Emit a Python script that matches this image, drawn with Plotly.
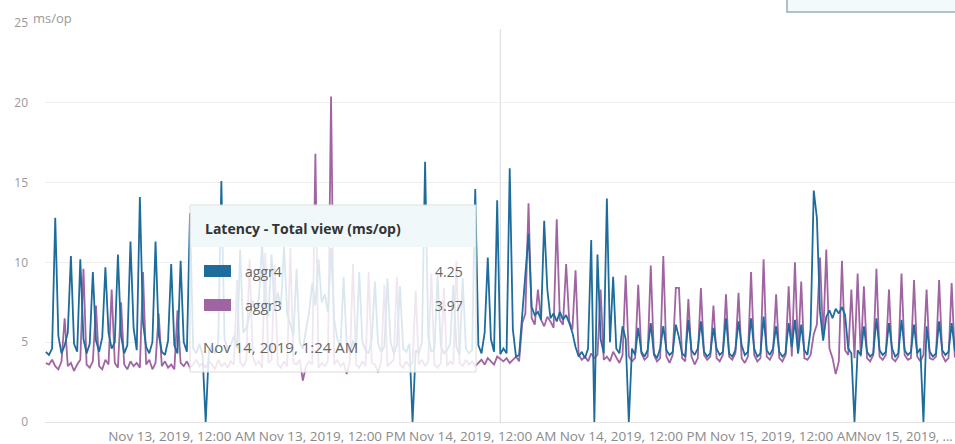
import pandas as pd
import plotly.graph_objects as go

# ---------------- data ----------------
START = "2019-11-12 13:09"
STEP = "15min"

aggr4 = [
    4.4,
    4.2, 4.6, 12.8, 5.4, 4.3, 4.8, 5.6, 10.4, 4.9, 4.4, 10.2, 5.2,
    4.3, 4.9, 9.4, 5.1, 4.4, 5.3, 9.7, 5.6, 4.6, 5.0, 10.5, 5.4,
    4.3, 4.8, 11.3, 5.9, 4.5, 14.1, 6.2, 4.7, 4.3, 5.0, 11.3, 5.5,
    4.4, 4.2, 5.1, 9.9, 4.8, 4.3, 10.1, 5.0, 4.4, 13.1, 4.6, 4.3,
    4.9, 4.2, 0.0, 4.4, 4.8, 4.3, 5.0, 15.1, 5.2, 4.6, 4.8, 5.4,
    4.6, 10.8, 5.6, 5.9, 6.8, 7.6, 6.9, 7.8, 11.2, 7.4, 6.6, 10.5,
    7.0, 8.1, 7.2, 11.0, 6.8, 6.1, 5.4, 9.6, 5.0, 4.6, 5.8, 6.9,
    8.7, 7.3, 10.2, 7.5, 8.0, 6.9, 10.9, 6.4, 5.2, 4.7, 9.1, 4.9,
    4.4, 5.1, 4.6, 9.4, 5.0, 4.5, 4.3, 5.2, 8.8, 4.9, 4.4, 4.7,
    9.0, 5.0, 4.3, 4.8, 8.5, 4.6, 4.4, 4.9, 0.0, 4.5, 4.3, 5.0,
    16.3, 5.4, 4.4, 4.6, 9.2, 4.8, 4.3, 4.5, 4.9, 8.6, 4.7, 4.2,
    9.0, 4.6, 4.3, 4.5, 14.6, 4.8, 4.3, 5.6, 10.3, 5.2, 4.4, 13.9,
    4.25, 4.6, 4.3, 15.9, 5.8, 4.1, 4.2, 6.6, 8.9, 11.8, 7.2, 6.7,
    6.9, 6.4, 12.6, 8.3, 6.5, 6.8, 6.3, 6.9, 6.4, 6.7, 6.2, 5.6,
    4.7, 4.1, 4.4, 4.0, 4.6, 11.4, 0.0, 10.5, 5.2, 4.3, 14.0, 5.0,
    9.1, 4.6, 4.3, 6.0, 5.2, 0.0, 4.6, 4.2, 5.9, 4.4, 4.1, 4.5,
    6.2, 4.3, 4.0, 4.6, 6.0, 4.5, 4.2, 4.4, 6.1, 5.3, 4.3, 4.1,
    6.4, 4.5, 4.2, 4.6, 6.3, 4.4, 4.1, 4.3, 5.9, 4.6, 4.2, 4.4,
    6.5, 4.3, 4.1, 4.5, 6.3, 4.8, 4.2, 4.4, 6.5, 4.6, 4.1, 4.3,
    6.6, 4.5, 4.2, 4.6, 6.0, 4.4, 4.1, 4.3, 6.2, 4.7, 6.4, 4.3,
    6.1, 4.5, 4.2, 5.8, 14.5, 12.8, 6.9, 5.1, 6.6, 7.0, 6.5, 7.1,
    6.8, 7.2, 6.7, 4.6, 4.3, 0.0, 4.5, 4.2, 6.0, 4.4, 4.1, 4.3,
    6.5, 4.5, 4.2, 4.4, 6.2, 4.6, 4.1, 4.3, 6.4, 4.5, 4.2, 4.4,
    6.1, 4.3, 4.6, 0.0, 6.0, 4.4, 4.1, 4.3, 6.3, 4.5, 4.2, 4.4,
    6.2, 4.5, 4.2,
]

aggr3 = [
    3.7,
    3.6, 3.9, 3.5, 3.3, 3.8, 6.5, 3.5, 3.7, 3.2, 3.6, 3.9, 9.6,
    3.6, 3.4, 3.8, 7.3, 3.5, 3.3, 3.9, 3.6, 8.3, 3.7, 3.4, 7.5,
    3.6, 3.3, 3.8, 3.5, 3.7, 3.4, 9.4, 3.6, 3.9, 3.3, 3.7, 6.8,
    3.5, 3.8, 3.4, 3.6, 3.3, 7.0, 3.7, 3.5, 3.8, 3.4, 3.6, 3.9,
    3.5, 3.7, 3.4, 3.8, 3.6, 3.3, 3.9, 3.5, 3.7, 3.4, 3.8, 3.6,
    8.9, 3.7, 3.5, 3.9, 10.2, 4.1, 3.6, 3.8, 3.4, 10.6, 3.7, 3.9,
    9.8, 3.6, 3.4, 3.8, 3.5, 10.9, 3.7, 3.6, 3.9, 2.6, 3.5, 3.8,
    3.6, 16.8, 3.4, 3.7, 3.5, 3.8, 20.4, 3.6, 3.9, 3.5, 3.7, 3.0,
    3.8, 9.9, 3.6, 3.4, 3.8, 3.5, 9.4, 3.7, 3.6, 3.1, 3.8, 8.6,
    3.5, 3.7, 3.9, 9.1, 3.6, 3.4, 3.8, 3.5, 3.7, 8.2, 3.6, 3.9,
    3.5, 3.8, 9.3, 3.6, 3.4, 3.7, 8.4, 3.5, 3.8, 3.6, 10.1, 3.7,
    3.5, 3.9, 3.6, 3.8, 3.5, 3.7, 3.9, 3.6, 4.0, 3.8, 3.6, 4.1,
    3.97, 3.8, 4.0, 3.7, 3.9, 4.1, 3.8, 6.2, 6.8, 13.7, 6.5, 6.1,
    8.3, 6.4, 6.0, 6.6, 6.3, 5.9, 12.7, 6.4, 6.1, 9.9, 6.3, 5.8,
    9.5, 4.2, 3.9, 4.1, 3.8, 4.3, 4.0, 4.2, 8.3, 3.9, 4.1, 3.8,
    4.4, 4.0, 3.7, 4.2, 9.2, 4.1, 3.8, 4.0, 8.6, 4.3, 3.9, 4.1,
    9.8, 4.2, 3.8, 4.0, 10.4, 4.1, 3.7, 4.2, 8.4, 8.4, 4.0, 3.8,
    7.7, 4.1, 3.6, 4.0, 8.4, 4.2, 3.9, 4.1, 7.3, 4.0, 3.8, 4.2,
    8.0, 4.1, 3.9, 4.3, 8.1, 4.0, 3.7, 4.1, 9.4, 4.2, 3.8, 4.0,
    10.2, 4.1, 3.9, 4.3, 8.0, 4.0, 3.8, 4.2, 8.5, 4.1, 10.0, 4.3,
    8.8, 4.0, 3.9, 4.2, 5.5, 6.1, 10.3, 5.2, 10.8, 4.6, 4.0, 3.0,
    3.8, 10.1, 4.5, 4.2, 8.3, 4.0, 9.3, 4.1, 8.5, 4.0, 3.8, 4.2,
    9.6, 4.1, 3.9, 4.2, 8.3, 4.0, 3.8, 4.1, 9.3, 4.2, 3.9, 4.0,
    8.9, 4.1, 3.8, 4.2, 8.3, 4.0, 3.9, 4.1, 8.9, 4.2, 3.8, 4.0,
    8.7, 4.1, 3.9,
]

series_names = ["aggr4", "aggr3"]
series_colors = ["#1d6c9c", "#a064a3"]

x_range = ["2019-11-12 13:05", "2019-11-15 13:40"]
x_tickvals = ["2019-11-13 00:00", "2019-11-13 12:00", "2019-11-14 00:00",
              "2019-11-14 12:00", "2019-11-15 00:00"]
x_ticktext = ["Nov 13, 2019, 12:00 AM", "Nov 13, 2019, 12:00 PM",
              "Nov 14, 2019, 12:00 AM", "Nov 14, 2019, 12:00 PM",
              "Nov 15, 2019, 12:00 AM"]
x_last_label = "Nov 15, 2019, …"   # truncated label for Nov 15, 12:00 PM
y_tickvals = [0, 5, 10, 15, 20, 25]

hover_time = "2019-11-14 01:24"
hover_label = "Nov 14, 2019, 1:24 AM"
hover_title = "Latency - Total view (ms/op)"
hover_values = ["4.25", "3.97"]
y_unit = "ms/op"

# ---------------- figure ----------------
times = pd.date_range(START, periods=len(aggr4), freq=STEP)

W, H = 955, 444
ML, MR, MT, MB = 45, 0, 23, 22
PW, PH = W - ML - MR, H - MT - MB


def px(xp):
    return (xp - ML) / PW


def py(yp):
    return (H - MB - yp) / PH


fig = go.Figure()
# purple below, blue on top
for vals, name, col in [(aggr3, series_names[1], series_colors[1]),
                        (aggr4, series_names[0], series_colors[0])]:
    fig.add_trace(go.Scatter(x=times, y=vals, mode="lines", name=name,
                             line=dict(color=col, width=1.8)))

font_family = "Open Sans, Arial, sans-serif"

shapes = []
# crosshair
shapes.append(dict(type="line", xref="x", yref="paper", x0=hover_time, x1=hover_time,
                   y0=0, y1=0.985, line=dict(color="#d8d8d8", width=1), layer="below"))
# tooltip body
bx0, bx1, by0, by1 = 190, 476, 205, 372
shapes.append(dict(type="rect", xref="paper", yref="paper",
                   x0=px(bx0), x1=px(bx1), y0=py(by1), y1=py(by0),
                   fillcolor="rgba(255,255,255,0.84)", line=dict(color="#dcdcdc", width=1),
                   layer="above"))
# tooltip header band
shapes.append(dict(type="rect", xref="paper", yref="paper",
                   x0=px(bx0 + 1), x1=px(bx1 - 1), y0=py(247), y1=py(by0 + 1),
                   fillcolor="rgba(240,248,250,0.97)", line=dict(width=0),
                   layer="above"))
# swatches
for yc, col in [(271, series_colors[0]), (305, series_colors[1])]:
    shapes.append(dict(type="rect", xref="paper", yref="paper",
                       x0=px(204), x1=px(231), y0=py(yc + 6), y1=py(yc - 6),
                       fillcolor=col, line=dict(width=0), layer="above"))
# dropdown box top right
shapes.append(dict(type="rect", xref="paper", yref="paper",
                   x0=px(787), x1=px(962), y0=py(12), y1=py(-6),
                   fillcolor="#f3fafb", line=dict(color="#9aaeb0", width=1.5),
                   layer="above"))

annotations = []
annotations.append(dict(xref="paper", yref="paper", x=px(31), y=py(18),
                        text=y_unit, showarrow=False, xanchor="left", yanchor="middle",
                        font=dict(family=font_family, size=13, color="#999999")))
annotations.append(dict(xref="paper", yref="paper", x=px(203), y=py(228),
                        text="<b>" + hover_title + "</b>", showarrow=False,
                        xanchor="left", yanchor="middle",
                        font=dict(family=font_family, size=14, color="#333333")))
for yc, nm, v in [(271, series_names[0], hover_values[0]),
                  (305, series_names[1], hover_values[1])]:
    annotations.append(dict(xref="paper", yref="paper", x=px(243), y=py(yc),
                            text=nm, showarrow=False, xanchor="left", yanchor="middle",
                            font=dict(family=font_family, size=14, color="#666666")))
    annotations.append(dict(xref="paper", yref="paper", x=px(465), y=py(yc),
                            text=v, showarrow=False, xanchor="right", yanchor="middle",
                            font=dict(family=font_family, size=14, color="#666666")))
annotations.append(dict(xref="paper", yref="paper", x=px(201), y=py(347),
                        text=hover_label, showarrow=False, xanchor="left", yanchor="middle",
                        font=dict(family=font_family, size=15, color="#666666")))
# truncated last x label
annotations.append(dict(xref="paper", yref="paper", x=px(855), y=py(436),
                        text=x_last_label, showarrow=False, xanchor="left", yanchor="middle",
                        font=dict(family=font_family, size=13, color="#8a8a8a")))

fig.update_layout(
    width=W, height=H,
    margin=dict(l=ML, r=MR, t=MT, b=MB, pad=0),
    paper_bgcolor="white", plot_bgcolor="white",
    showlegend=False,
    font=dict(family=font_family, size=12, color="#888888"),
    shapes=shapes, annotations=annotations,
    xaxis=dict(range=x_range, tickvals=x_tickvals, ticktext=x_ticktext,
               showgrid=False, zeroline=False, showline=False, ticks="",
               tickfont=dict(size=13.5, color="#8a8a8a"), ticklabelstandoff=4,
               automargin=False, fixedrange=True),
    yaxis=dict(range=[0, 25], tickvals=y_tickvals, showgrid=True,
               gridcolor="#eeeeee", gridwidth=1, zeroline=True, zerolinecolor="#e2e2e2",
               zerolinewidth=1, showline=False, ticks="",
               tickfont=dict(size=12, color="#999999"), ticklabelstandoff=16,
               automargin=False, fixedrange=True),
)

fig.write_html("out.html", config={"displayModeBar": False},
               post_script="document.body.style.margin='0';document.body.style.overflow='hidden';")
